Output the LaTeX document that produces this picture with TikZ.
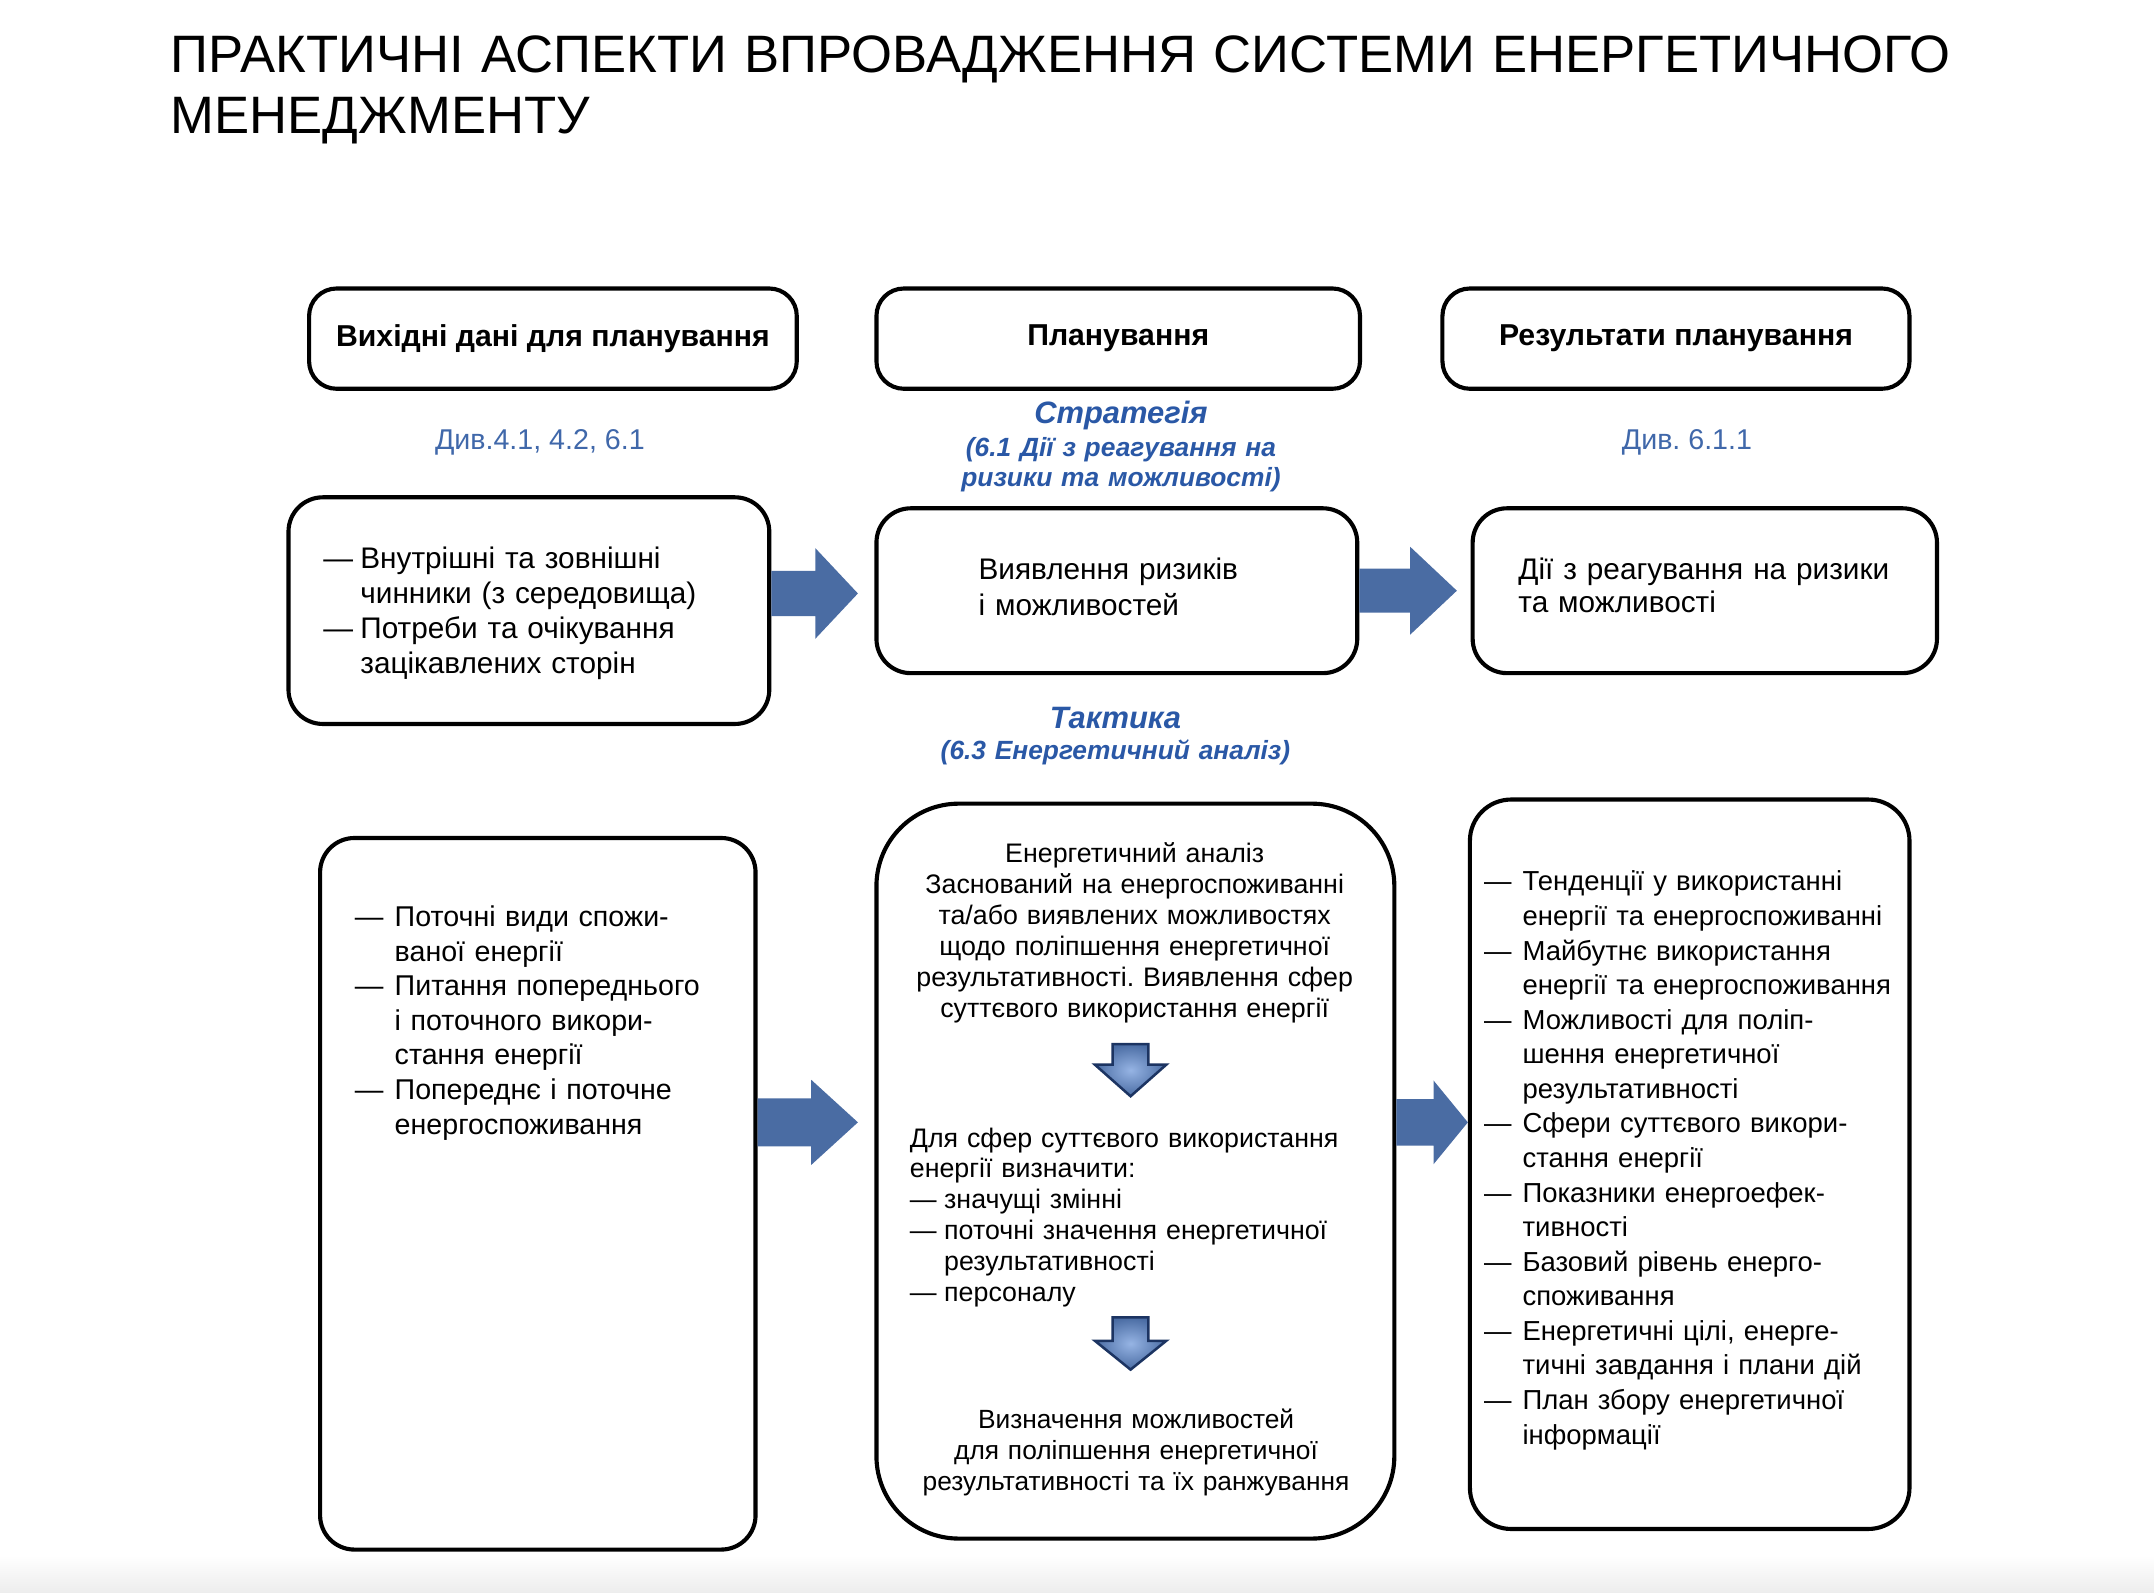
\documentclass[tikz,border=0pt]{standalone}
\usepackage{fontspec}
\setmainfont{Liberation Sans}
\usetikzlibrary{calc}
\definecolor{arrowblue}{RGB}{74,108,163}
\definecolor{labblue}{RGB}{64,104,170}
\definecolor{strblue}{RGB}{42,88,166}
\definecolor{darknavy}{RGB}{28,52,98}
\definecolor{lightarrow}{RGB}{150,180,228}
\frenchspacing
\newcommand{\fs}[2]{\fontsize{#1}{#2}\selectfont}
\newcommand{\dsh}[1]{\makebox[#1][l]{—}}
\newcommand{\ind}[1]{\hspace*{#1}}
% block arrow between two named boxes
\newcommand{\barrow}[7]{%
  \fill[arrowblue] let \p1=(#1.east |- 0,#3), \p2=([xshift=-#7*0.6pt]#2.west |- 0,#3) in
  (\x1,\y1+#4*0.6pt) -- (\x2-#6*0.6pt,\y1+#4*0.6pt) -- (\x2-#6*0.6pt,\y1+#5*0.6pt) -- (\x2,\y1)
  -- (\x2-#6*0.6pt,\y1-#5*0.6pt) -- (\x2-#6*0.6pt,\y1-#4*0.6pt) -- (\x1,\y1-#4*0.6pt) -- cycle;}
% small down arrow
\newcommand{\darrow}[5]{%
  \draw[downarrow] (#1-#5,#2) -- (#1+#5,#2) -- (#1+#5,#3) -- (#1+26,#3) -- (#1,#4)
  -- (#1-26,#3) -- (#1-#5,#3) -- cycle;}
\begin{document}
\begin{tikzpicture}[x=0.6pt,y=-0.6pt,
  box/.style={draw=black, line width=1.8pt, inner sep=0pt},
  head/.style={box, rounded corners=12pt, minimum height=43.8pt, font=\bfseries\fs{13.2}{15}},
  lab/.style={anchor=base, inner sep=0pt, text=labblue, font=\fs{12.5}{15}},
  strat/.style={anchor=base, inner sep=0pt, text=strblue, align=center, text width=200pt},
  txt/.style={anchor=base west, inner sep=0pt, align=left},
  ctxt/.style={anchor=base, inner sep=0pt, align=center},
  downarrow/.style={draw=darknavy, line width=1.1pt, inner color=lightarrow, outer color=arrowblue, line join=miter}
]
\useasboundingbox (0,0) rectangle (1568,1159);
\fill[white] (0,0) rectangle (1568,1159);
\shade[top color=white, bottom color=black!7] (0,1132) rectangle (1568,1159);

% title
\node[txt, text width=900pt, font=\fs{23}{26.4}] (title) at (124,53)
  {ПРАКТИЧНІ АСПЕКТИ ВПРОВАДЖЕННЯ СИСТЕМИ ЕНЕРГЕТИЧНОГО\\МЕНЕДЖМЕНТУ};

% header boxes
\node[head, minimum width=213pt] (A) at (402.5,246.5) {Вихідні дані для планування};
\node[head, minimum width=211.2pt] (B) at (814,246.5) {Планування};
\node[head, minimum width=204pt] (C) at (1220,246.5) {Результати планування};

% blue labels
\node[lab] (divA) at (393,327.5) {Див.4.1, 4.2, 6.1};
\node[lab] (divC) at (1228,327.5) {Див. 6.1.1};
\node[strat, font=\bfseries\itshape\fs{13.5}{16}] (str1) at (816,308) {Стратегія};
\node[strat, font=\bfseries\itshape\fs{11.5}{13.2}] (str2) at (816,332) {(6.1 Дії з реагування на\\ризики та можливості)};
\node[strat, font=\bfseries\itshape\fs{13.5}{16}] (tac1) at (812,530) {Тактика};
\node[strat, font=\bfseries\itshape\fs{11.5}{13.2}] (tac2) at (812,553) {(6.3 Енергетичний аналіз)};

% second row
\node[box, rounded corners=15pt, minimum width=210pt, minimum height=99pt] (D) at (385,444.5) {};
\node[box, rounded corners=15pt, minimum width=210pt, minimum height=72pt] (E) at (813,430) {};
\node[box, rounded corners=15pt, minimum width=202.8pt, minimum height=72pt] (F) at (1241,430) {};

\node[txt, text width=200pt, font=\fs{13}{15.2}] (Dt) at (235,414)
  {\dsh{16.2pt}Внутрішні та зовнішні\\\ind{16.2pt}чинники (з середовища)\\\dsh{16.2pt}Потреби та очікування\\\ind{16.2pt}зацікавлених сторін};
\node[txt, text width=180pt, font=\fs{13}{15.6}] (Et) at (712,422) {Виявлення ризиків\\і можливостей};
\node[txt, text width=190pt, font=\fs{13}{14.4}] (Ft) at (1105,422) {Дії з реагування на ризики\\та можливості};

% third row
\node[box, rounded corners=15pt, minimum width=190.2pt, minimum height=310.8pt] (G) at (391.5,869) {};
\node[box, rounded corners=36pt, minimum width=226.2pt, minimum height=321pt] (H) at (826.5,852.5) {};
\node[box, rounded corners=18pt, minimum width=192pt, minimum height=318.6pt] (I) at (1230,847.5) {};

\node[txt, text width=180pt, font=\fs{12.5}{15.1}] (Gt) at (258,674.5)
  {\dsh{17.4pt}Поточні види спожи-\\\ind{17.4pt}ваної енергії\\\dsh{17.4pt}Питання попереднього\\\ind{17.4pt}і поточного викори-\\\ind{17.4pt}стання енергії\\\dsh{17.4pt}Попереднє і поточне\\\ind{17.4pt}енергоспоживання};

\node[ctxt, text width=215pt, font=\fs{11.7}{13.56}] (Ht1) at (826,628)
  {Енергетичний аналіз\\Заснований на енергоспоживанні\\та/або виявлених можливостях\\щодо поліпшення енергетичної\\результативності. Виявлення сфер\\суттєвого використання енергії};
\node[txt, text width=200pt, font=\fs{11.7}{13.5}] (Ht2) at (662,835)
  {Для сфер суттєвого використання\\енергії визначити:\\\dsh{15pt}значущі змінні\\\dsh{15pt}поточні значення енергетичної\\\ind{15pt}результативності\\\dsh{15pt}персоналу};
\node[ctxt, text width=215pt, font=\fs{11.5}{13.56}] (Ht3) at (827,1040)
  {Визначення можливостей\\для поліпшення енергетичної\\результативності та їх ранжування};

\node[txt, text width=200pt, font=\fs{12}{15.1}] (It) at (1080,648.5)
  {\dsh{16.8pt}Тенденції у використанні\\\ind{16.8pt}енергії та енергоспоживанні\\\dsh{16.8pt}Майбутнє використання\\\ind{16.8pt}енергії та енергоспоживання\\\dsh{16.8pt}Можливості для поліп-\\\ind{16.8pt}шення енергетичної\\\ind{16.8pt}результативності\\\dsh{16.8pt}Сфери суттєвого викори-\\\ind{16.8pt}стання енергії\\\dsh{16.8pt}Показники енергоефек-\\\ind{16.8pt}тивності\\\dsh{16.8pt}Базовий рівень енерго-\\\ind{16.8pt}споживання\\\dsh{16.8pt}Енергетичні цілі, енерге-\\\ind{16.8pt}тичні завдання і плани дій\\\dsh{16.8pt}План збору енергетичної\\\ind{16.8pt}інформації};

% big block arrows
\barrow{D}{E}{432}{16.5}{33}{31}{12}
\barrow{E}{F}{430}{16}{32}{34}{10}
\barrow{G}{H}{817}{17.5}{31}{34}{12}
\barrow{H}{I}{817}{17}{30.5}{25}{0}

% small down arrows inside H
\darrow{823}{760}{775}{798}{13}
\darrow{823}{959}{976}{997}{13}
\end{tikzpicture}
\end{document}
